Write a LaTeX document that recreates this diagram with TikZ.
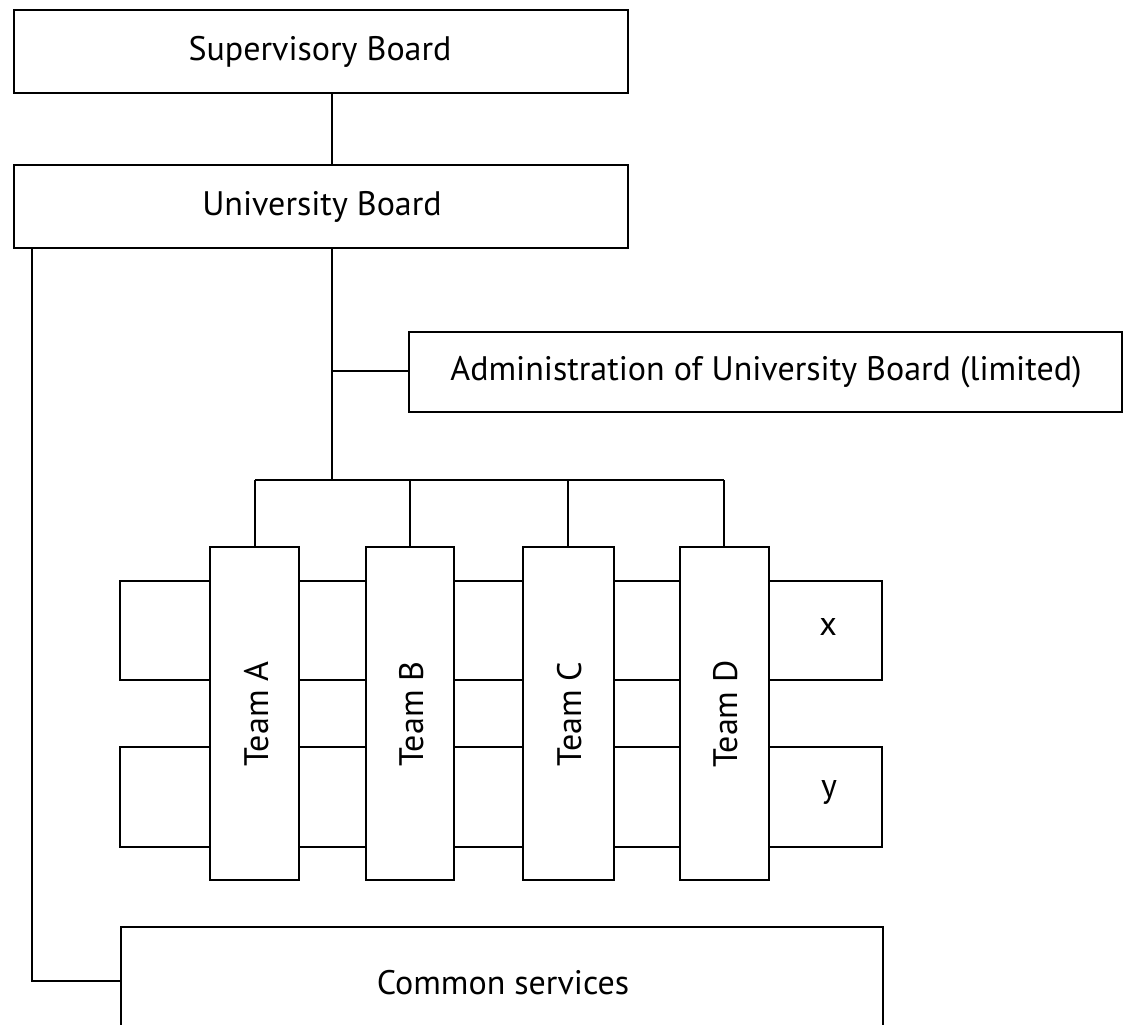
\documentclass[tikz,border=0pt]{standalone}
\usepackage{fontspec}
\setmainfont{PT Sans}
\begin{document}
\begin{tikzpicture}[x=1pt,y=-1pt,
  box/.style={draw=black,line width=2.3pt,fill=white},
  conn/.style={draw=black,line width=2pt},
  lbl/.style={font=\fontsize{34}{38}\selectfont}]
\useasboundingbox[fill=white] (0,0) rectangle (1130,1025);
\clip (0,0) rectangle (1130,1025);
% boxes
\draw[box] (14,10) rectangle (628,93);
\node[lbl] (sb) at (320,52) {Supervisory Board};
\draw[box] (14,165) rectangle (628,248);
\node[lbl] (ub) at (322,207) {University Board};
\draw[box] (409,332) rectangle (1122,412);
\node[lbl] (adm) at (766,372) {Administration of University Board (limited)};
% connectors top
\coordinate (sbb) at (332,93);
\coordinate (ubt) at (332,165);
\coordinate (ubb) at (332,248);
\coordinate (bus) at (332,480);
\coordinate (admb) at (332,371);
\coordinate (adml) at (409,371);
\draw[conn] (sbb) -- (ubt);
\draw[conn] (ubb) -- (bus);
\draw[conn] (admb) -- (adml);
\coordinate (busA) at (255,480);
\coordinate (busD) at (724,480);
\draw[conn] (busA) -- (busD);
\draw[conn] (255,480) -- (255,547);
\draw[conn] (410,480) -- (410,547);
\draw[conn] (568,480) -- (568,547);
\draw[conn] (724,480) -- (724,547);
% rows
\draw[box] (120,581) rectangle (882,680);
\draw[box] (120,747) rectangle (882,847);
\node[lbl] (x) at (828,627) {x};
\node[lbl] (y) at (829,792) {y};
% teams
\draw[box] (210,547) rectangle (299,880);
\node[lbl,rotate=90] (ta) at (257,714) {Team A};
\draw[box] (366,547) rectangle (454,880);
\node[lbl,rotate=90] (tb) at (412,714) {Team B};
\draw[box] (523,547) rectangle (614,880);
\node[lbl,rotate=90] (tc) at (570,714) {Team C};
\draw[box] (680,547) rectangle (769,880);
\node[lbl,rotate=90] (td) at (726,714) {Team D};
% common services
\draw[box] (121,927) rectangle (883,1060);
\node[lbl] (cs) at (503,983) {Common services};
\coordinate (lt) at (32,248);
\coordinate (lb) at (32,981);
\coordinate (csl) at (121,981);
\draw[conn] (lt) -- (lb) -- (csl);
\end{tikzpicture}
\end{document}
